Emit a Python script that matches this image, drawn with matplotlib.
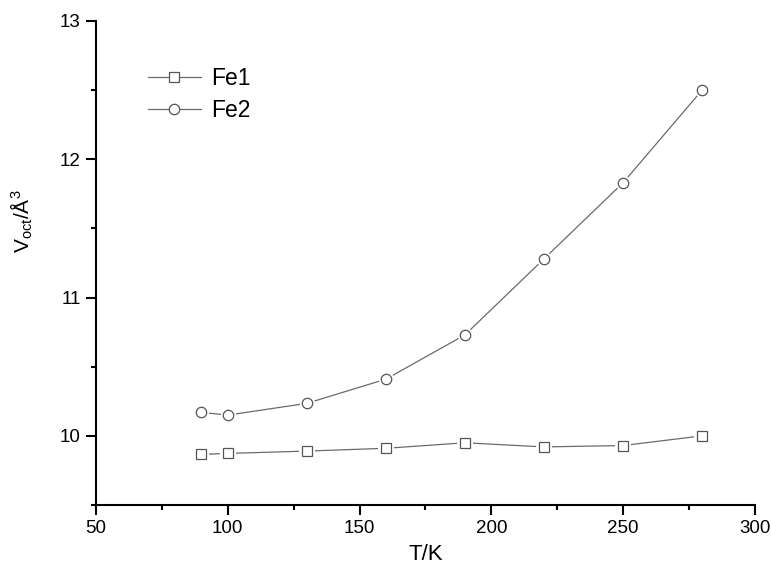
import numpy as np
import matplotlib
matplotlib.use("Agg")
import matplotlib.pyplot as plt
from matplotlib.ticker import MultipleLocator

plt.rcParams['font.family'] = ['Liberation Sans', 'DejaVu Sans']
plt.rcParams['mathtext.fontset'] = 'custom'
plt.rcParams['mathtext.rm'] = 'Liberation Sans'
plt.rcParams['mathtext.it'] = 'Liberation Sans'

temps = [90, 100, 130, 160, 190, 220, 250, 280]
fe1 = [9.866, 9.873, 9.89, 9.91, 9.95, 9.92, 9.93, 10.0]
fe2 = [10.17, 10.15, 10.235, 10.41, 10.73, 11.28, 11.83, 12.50]
labels = ["Fe1", "Fe2"]

line_col = '#6a6a6a'
edge_col = '#555555'

fig = plt.figure(figsize=(7.71, 5.64), dpi=100)
ax = fig.add_axes([0.1245, 0.1046, 0.8545, 0.8582])

handles = []
for vals, mk, lab in zip([fe1, fe2], ['s', 'o'], labels):
    ax.plot(temps, vals, '-', color=line_col, lw=0.9, zorder=2)
    # white halo gives the gap between line and marker
    ax.plot(temps, vals, mk, ms=11, mfc='white', mec='white', mew=0, zorder=3)
    ax.plot(temps, vals, mk, ms=7.5, mfc='white', mec=edge_col, mew=0.9, zorder=4)
    h, = ax.plot([], [], '-', color=line_col, lw=0.9, marker=mk, ms=7.5,
                 mfc='white', mec=edge_col, mew=0.9, label=lab)
    handles.append(h)

ax.set_xlim(50, 300)
ax.set_ylim(9.5, 13)
ax.xaxis.set_major_locator(MultipleLocator(50))
ax.xaxis.set_minor_locator(MultipleLocator(25))
ax.yaxis.set_major_locator(MultipleLocator(1))
ax.yaxis.set_minor_locator(MultipleLocator(0.5))

for s in ['top', 'right']:
    ax.spines[s].set_visible(False)
for s in ['left', 'bottom']:
    ax.spines[s].set_linewidth(1.5)

ax.tick_params(which='major', direction='out', length=7, width=1.5, labelsize=13.5, pad=4)
ax.tick_params(which='minor', direction='out', length=3.5, width=1.5)

ax.set_xlabel('T/K', fontsize=16, labelpad=5)
ax.set_ylabel(r'V$_{\mathrm{oct}}$/Å$^{3}$', fontsize=15)
ax.yaxis.set_label_coords(-0.093, 0.587)

leg = ax.legend(handles=handles, loc='upper left', bbox_to_anchor=(0.079, 0.905),
                frameon=False, fontsize=16.5, handlelength=2.3, handletextpad=0.45,
                labelspacing=0.4, borderpad=0, borderaxespad=0)

fig.savefig('out.png', dpi=100)
